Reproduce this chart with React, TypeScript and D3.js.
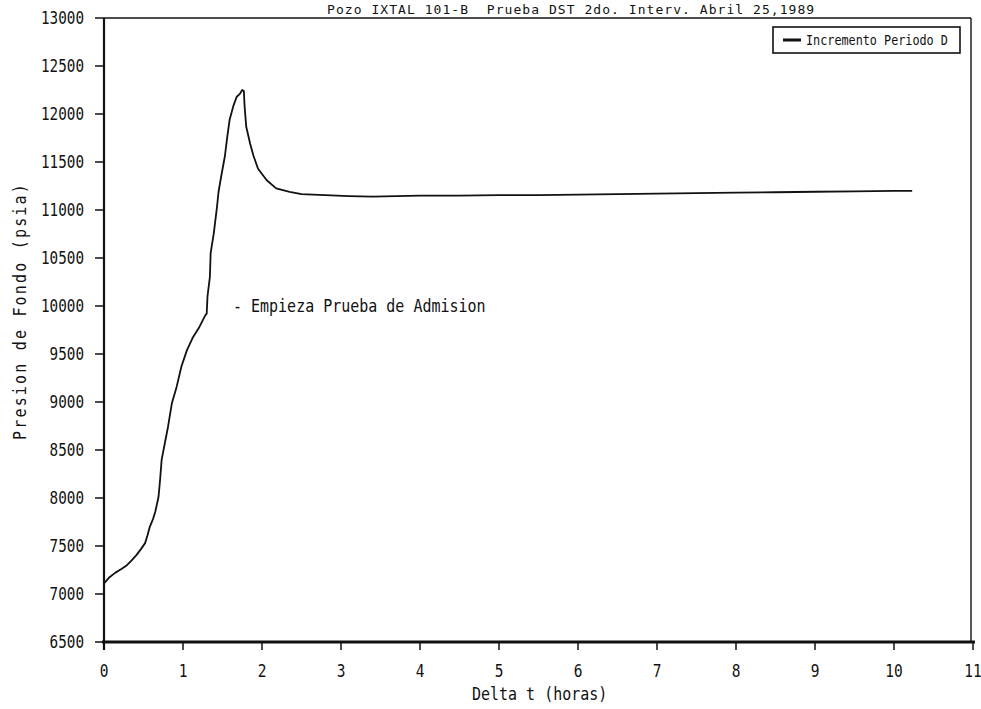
import React from "react";
import * as d3 from "d3";

// Elapsed time since the start of the build-up period (hours)
const timeHours = [
  0, 0.07, 0.14, 0.22, 0.29, 0.35, 0.41, 0.47, 0.52, 0.55, 0.58, 0.62, 0.65,
  0.69, 0.71, 0.73, 0.77, 0.81, 0.86, 0.92, 0.98, 1.05, 1.13, 1.2, 1.28, 1.3,
  1.31, 1.34, 1.35, 1.39, 1.43, 1.45, 1.49, 1.53, 1.56, 1.59, 1.64, 1.68, 1.72,
  1.75, 1.77, 1.78, 1.8, 1.85, 1.89, 1.95, 2.06, 2.18, 2.35, 2.5, 2.8, 3.1, 3.4,
  3.7, 4.0, 4.5, 5.0, 5.5, 6.0, 6.5, 7.0, 7.5, 8.0, 8.5, 9.0, 9.5, 10.0, 10.23,
];

// Bottom-hole pressure (psia)
const pressurePsia = [
  7110, 7175, 7220, 7260, 7300, 7350, 7405, 7470, 7530, 7610, 7700, 7780, 7860,
  8010, 8190, 8400, 8570, 8740, 8990, 9160, 9370, 9540, 9680, 9770, 9900, 9920,
  10100, 10300, 10550, 10760, 11030, 11190, 11380, 11560, 11760, 11940, 12090,
  12180, 12210, 12250, 12240, 12080, 11870, 11690, 11570, 11430, 11310, 11225,
  11190, 11165, 11155, 11145, 11140, 11145, 11150, 11150, 11155, 11155, 11160,
  11165, 11170, 11175, 11180, 11185, 11190, 11195, 11200, 11200,
];

const xTickValues = [0, 1, 2, 3, 4, 5, 6, 7, 8, 9, 10, 11];
const yTickValues = [
  6500, 7000, 7500, 8000, 8500, 9000, 9500, 10000, 10500, 11000, 11500, 12000,
  12500, 13000,
];

const titleText = "Pozo IXTAL 101-B  Prueba DST 2do. Interv. Abril 25,1989";
const legendText = "Incremento Periodo D";
const annotationText = "- Empieza Prueba de Admision";
const xAxisTitle = "Delta t (horas)";
const yAxisTitle = "Presion de Fondo (psia)";

const W = 981;
const H = 709;
const FONT = "'DejaVu Sans Mono', 'Liberation Mono', monospace";
const INK = "#111";

type LabelProps = {
  x: number;
  y: number;
  size: number;
  anchor?: "start" | "middle" | "end";
  rotate?: number;
  spacing?: number;
  stretch?: number;
  children: React.ReactNode;
};

// Tall, narrow plotter-style lettering
function Label({ x, y, size, anchor = "start", rotate = 0, spacing = 0, stretch = 1.2, children }: LabelProps) {
  return (
    <text
      transform={`translate(${x},${y}) rotate(${rotate}) scale(1,${stretch})`}
      fontFamily={FONT}
      fontSize={size}
      textAnchor={anchor}
      letterSpacing={spacing}
      fill={INK}
      style={{ whiteSpace: "pre" }}
    >
      {children}
    </text>
  );
}

export default function App() {
  const x = d3.scaleLinear().domain([0, 11]).range([104, 973]);
  const y = d3.scaleLinear().domain([6500, 13000]).range([642, 18]);

  const points: [number, number][] = timeHours.map((t, i) => [t, pressurePsia[i]]);
  const line = d3
    .line<[number, number]>()
    .x((d) => x(d[0]))
    .y((d) => y(d[1]));

  const left = x(0);
  const right = x(11);
  const top = y(13000);
  const bottom = y(6500);

  return (
    <div style={{ position: "absolute", left: 0, top: 0 }}>
      <svg width={W} height={H} viewBox={`0 0 ${W} ${H}`} style={{ display: "block", background: "#fff" }}>
        <rect x={0} y={0} width={W} height={H} fill="#fff" />

        {/* title */}
        <Label x={327} y={13.5} size={13} spacing={1.05} stretch={1}>
          {titleText}
        </Label>

        {/* frame: top and right */}
        <line x1={left} x2={right - 2} y1={top} y2={top} stroke={INK} strokeWidth={1.6} />
        <line x1={right - 2} x2={right - 2} y1={top} y2={bottom} stroke={INK} strokeWidth={1.4} />

        {/* y axis */}
        <line x1={left} x2={left} y1={top} y2={bottom + 8} stroke={INK} strokeWidth={2.2} />
        {yTickValues.map((v) => (
          <g key={`yt${v}`}>
            <line x1={left - 9} x2={left} y1={y(v)} y2={y(v)} stroke={INK} strokeWidth={1.5} />
            <Label x={84} y={y(v) + 6} size={14.3} anchor="end">
              {v}
            </Label>
          </g>
        ))}

        {/* x axis */}
        <line x1={left - 2} x2={right + 2} y1={bottom} y2={bottom} stroke={INK} strokeWidth={3} />
        {xTickValues.map((v) => (
          <g key={`xt${v}`}>
            <line x1={x(v)} x2={x(v)} y1={bottom} y2={bottom + 8} stroke={INK} strokeWidth={1.5} />
            <Label x={x(v)} y={677} size={14.5} anchor="middle">
              {v}
            </Label>
          </g>
        ))}

        {/* axis titles */}
        <Label x={472} y={700} size={15}>
          {xAxisTitle}
        </Label>
        <Label x={26} y={311} size={15} anchor="middle" rotate={-90} spacing={2.2}>
          {yAxisTitle}
        </Label>

        {/* pressure curve */}
        <path d={line(points) ?? ""} fill="none" stroke={INK} strokeWidth={1.8} strokeLinejoin="round" />

        {/* annotation at start of injection test */}
        <Label x={233} y={312} size={15}>
          {annotationText}
        </Label>

        {/* legend */}
        <rect x={773} y={27} width={187} height={26} fill="#fff" stroke={INK} strokeWidth={1.6} />
        <line x1={783} x2={801} y1={40} y2={40} stroke={INK} strokeWidth={3} />
        <Label x={806} y={45} size={11.8}>
          {legendText}
        </Label>
      </svg>
    </div>
  );
}
